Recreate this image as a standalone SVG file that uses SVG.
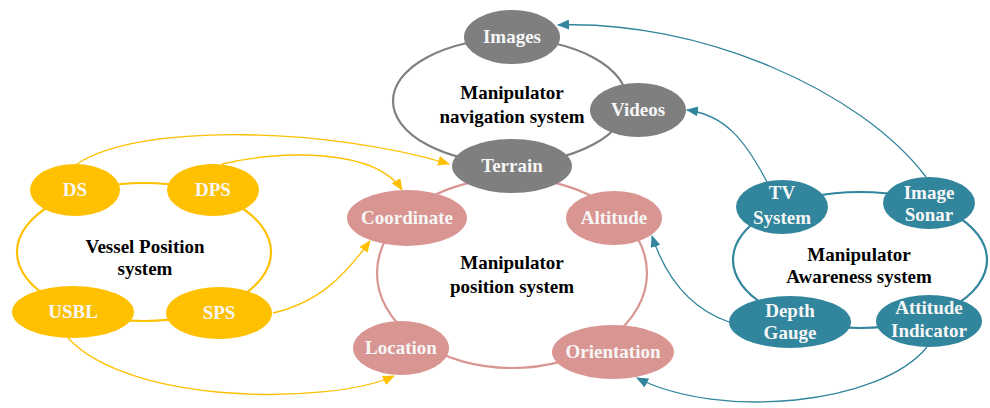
<svg xmlns="http://www.w3.org/2000/svg" width="990" height="408" viewBox="0 0 990 408">
<style>
.ring{fill:none;stroke-width:2.2}
.conn{fill:none;stroke-width:1.3}
.nl{font-family:"Liberation Serif","Times New Roman",serif;font-weight:bold;font-size:19px;fill:#F7F7F7;text-anchor:middle}
.tl{font-family:"Liberation Serif","Times New Roman",serif;font-weight:bold;font-size:19px;fill:#000;text-anchor:middle}
.o{fill:#FFC000}.g{fill:#7F7F7F}.p{fill:#D99591}.t{fill:#31859C}
</style>
<defs>
<marker id="ao" markerUnits="userSpaceOnUse" markerWidth="12" markerHeight="10" refX="11" refY="5" orient="auto"><path d="M0,0 L12,5 L0,10 Z" fill="#FFC000"/></marker>
<marker id="at" markerUnits="userSpaceOnUse" markerWidth="12" markerHeight="10" refX="11" refY="5" orient="auto"><path d="M0,0 L12,5 L0,10 Z" fill="#31859C"/></marker>
</defs>
<g id="rings">
<ellipse cx="144" cy="252" rx="127" ry="69" class="ring" stroke="#FFC000"/>
<ellipse cx="510" cy="101" rx="117" ry="62" class="ring" stroke="#7F7F7F"/>
<ellipse cx="512" cy="273" rx="135" ry="95" class="ring" stroke="#D99591"/>
<ellipse cx="860" cy="260" rx="127" ry="68" class="ring" stroke="#31859C"/>
</g>
<g id="connectors">
<path class="conn" stroke="#FFC000" marker-end="url(#ao)" d="M77,164 C140,122 330,128 449,164"/>
<path class="conn" stroke="#FFC000" marker-end="url(#ao)" d="M222,164 C280,150 375,148 402,190"/>
<path class="conn" stroke="#FFC000" marker-end="url(#ao)" d="M273,313 C320,302 345,275 370,241"/>
<path class="conn" stroke="#FFC000" marker-end="url(#ao)" d="M68,338 C130,405 330,405 394,376"/>
<path class="conn" stroke="#31859C" marker-end="url(#at)" d="M926,177 C860,90 700,20 558,25"/>
<path class="conn" stroke="#31859C" marker-end="url(#at)" d="M767,182 C745,140 725,115 687,110"/>
<path class="conn" stroke="#31859C" marker-end="url(#at)" d="M729,322 C700,312 670,290 652,236"/>
<path class="conn" stroke="#31859C" marker-end="url(#at)" d="M927,347 C880,405 720,420 637,378"/>
</g>
<g id="vessel-label"><text class="tl" x="145" y="253">Vessel Position</text><text class="tl" x="145" y="275">system</text></g>
<g id="nav-label"><text class="tl" x="512" y="99">Manipulator</text><text class="tl" x="512" y="123">navigation system</text></g>
<g id="pos-label"><text class="tl" x="512" y="269">Manipulator</text><text class="tl" x="512" y="293">position system</text></g>
<g id="aware-label"><text class="tl" x="859" y="261">Manipulator</text><text class="tl" x="859" y="283">Awareness system</text></g>
<g id="DS"><ellipse class="o" cx="75" cy="190" rx="45" ry="26"/><text class="nl" x="75" y="196">DS</text></g>
<g id="DPS"><ellipse class="o" cx="213" cy="190" rx="46" ry="26"/><text class="nl" x="213" y="196">DPS</text></g>
<g id="USBL"><ellipse class="o" cx="73" cy="312" rx="61" ry="26"/><text class="nl" x="73" y="318">USBL</text></g>
<g id="SPS"><ellipse class="o" cx="219" cy="313" rx="53" ry="26"/><text class="nl" x="219" y="319">SPS</text></g>
<g id="Images"><ellipse class="g" cx="512" cy="37" rx="48" ry="27"/><text class="nl" x="512" y="43">Images</text></g>
<g id="Videos"><ellipse class="g" cx="638" cy="110" rx="48" ry="27"/><text class="nl" x="638" y="116">Videos</text></g>
<g id="Terrain"><ellipse class="g" cx="512" cy="166" rx="60" ry="27"/><text class="nl" x="512" y="172">Terrain</text></g>
<g id="Coordinate"><ellipse class="p" cx="407" cy="218" rx="60" ry="28"/><text class="nl" x="407" y="224">Coordinate</text></g>
<g id="Altitude"><ellipse class="p" cx="614" cy="218" rx="48" ry="27"/><text class="nl" x="614" y="224">Altitude</text></g>
<g id="Location"><ellipse class="p" cx="401" cy="348" rx="48" ry="27"/><text class="nl" x="401" y="354">Location</text></g>
<g id="Orientation"><ellipse class="p" cx="613" cy="352" rx="61" ry="27"/><text class="nl" x="613" y="358">Orientation</text></g>
<g id="TVSystem"><ellipse class="t" cx="782" cy="207" rx="46" ry="27"/><text class="nl" x="782" y="199">TV</text><text class="nl" x="782" y="224">System</text></g>
<g id="ImageSonar"><ellipse class="t" cx="929" cy="203" rx="46" ry="26"/><text class="nl" x="929" y="199">Image</text><text class="nl" x="929" y="221">Sonar</text></g>
<g id="DepthGauge"><ellipse class="t" cx="790" cy="322" rx="61" ry="26"/><text class="nl" x="790" y="317">Depth</text><text class="nl" x="790" y="339">Gauge</text></g>
<g id="AttitudeIndicator"><ellipse class="t" cx="929" cy="321" rx="53" ry="26"/><text class="nl" x="929" y="314">Attitude</text><text class="nl" x="929" y="337">Indicator</text></g>
</svg>
